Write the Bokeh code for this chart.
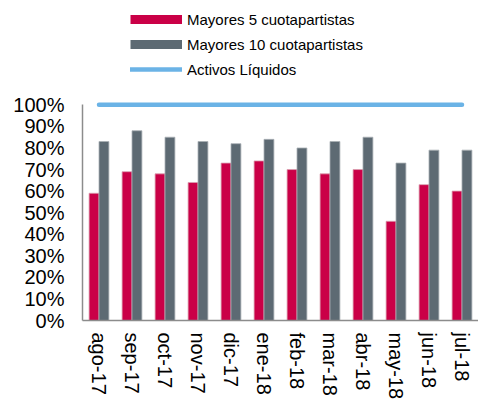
from bokeh.plotting import figure
from bokeh.models import ColumnDataSource, FactorRange, Range1d, FixedTicker, PrintfTickFormatter, Legend, LegendItem
from bokeh.transform import dodge
from bokeh.embed import file_html
from bokeh.resources import INLINE

months = ["ago-17", "sep-17", "oct-17", "nov-17", "dic-17", "ene-18",
          "feb-18", "mar-18", "abr-18", "may-18", "jun-18", "jul-18"]
top5 = [59, 69, 68, 64, 73, 74, 70, 68, 70, 46, 63, 60]
top10 = [83, 88, 85, 83, 82, 84, 80, 83, 85, 73, 79, 79]
liquid = [100] * 12
y_ticks = [0, 10, 20, 30, 40, 50, 60, 70, 80, 90, 100]

RED = "#CA0047"
GRAY = "#5D6A73"
BLUE = "#6BB3E6"
FONT = "Liberation Sans"

src = ColumnDataSource(dict(m=months, t5=top5, t10=top10, liq=liquid))

p = figure(width=478, height=402, output_backend="svg", toolbar_location=None,
           x_range=FactorRange(*months, range_padding=0),
           y_range=Range1d(0, 148.4),
           min_border_left=82, min_border_right=0, min_border_top=0, min_border_bottom=81)
p.outline_line_color = None
p.xgrid.grid_line_color = None
p.ygrid.grid_line_color = None
p.background_fill_color = "white"
p.border_fill_color = "white"

p.vbar(x=dodge("m", -0.15, range=p.x_range), top="t5", width=0.3, source=src,
       fill_color=RED, line_color="#D9A0B0", line_width=0.8)
p.vbar(x=dodge("m", 0.15, range=p.x_range), top="t10", width=0.3, source=src,
       fill_color=GRAY, line_color="#A9B0B5", line_width=0.8)
r_liq = p.line(x="m", y="liq", source=src, line_color=BLUE, line_width=4.5, line_cap="round")

nan = float("nan")
r_red = p.line(x=[months[0], months[1]], y=[nan, nan], line_color=RED, line_width=9, line_cap="butt")
r_gray = p.line(x=[months[0], months[1]], y=[nan, nan], line_color=GRAY, line_width=9, line_cap="butt")

legend = Legend(items=[
    LegendItem(label="Mayores 5 cuotapartistas", renderers=[r_red]),
    LegendItem(label="Mayores 10 cuotapartistas", renderers=[r_gray]),
    LegendItem(label="Activos Líquidos", renderers=[r_liq]),
], location=(48, 241), orientation="vertical", padding=0, margin=0, spacing=5,
    glyph_width=52, glyph_height=20, label_height=20, label_standoff=5,
    label_text_font=FONT, label_text_font_size="15px", label_text_color="black",
    border_line_color=None, background_fill_alpha=0)
p.add_layout(legend)

p.yaxis.ticker = FixedTicker(ticks=y_ticks)
p.yaxis.formatter = PrintfTickFormatter(format="%d%%")
p.yaxis.bounds = (0, 100)
p.yaxis.major_tick_out = 0
p.yaxis.major_tick_in = 0
p.yaxis.minor_tick_line_color = None
p.yaxis.major_label_standoff = 18
p.yaxis.major_label_text_font = FONT
p.yaxis.major_label_text_font_size = "20px"
p.yaxis.major_label_text_color = "black"
p.yaxis.axis_line_color = "#8C8C8C"
p.yaxis.axis_line_width = 1.5

p.xaxis.major_tick_out = 0
p.xaxis.major_tick_in = 0
p.xaxis.major_label_orientation = "vertical"
p.xaxis.major_label_standoff = 12
p.xaxis.major_label_text_font = FONT
p.xaxis.major_label_text_font_size = "20px"
p.xaxis.major_label_text_color = "black"
p.xaxis.axis_line_color = "#8C8C8C"
p.xaxis.axis_line_width = 1.5

open("out.html", "w").write(file_html(p, INLINE))
